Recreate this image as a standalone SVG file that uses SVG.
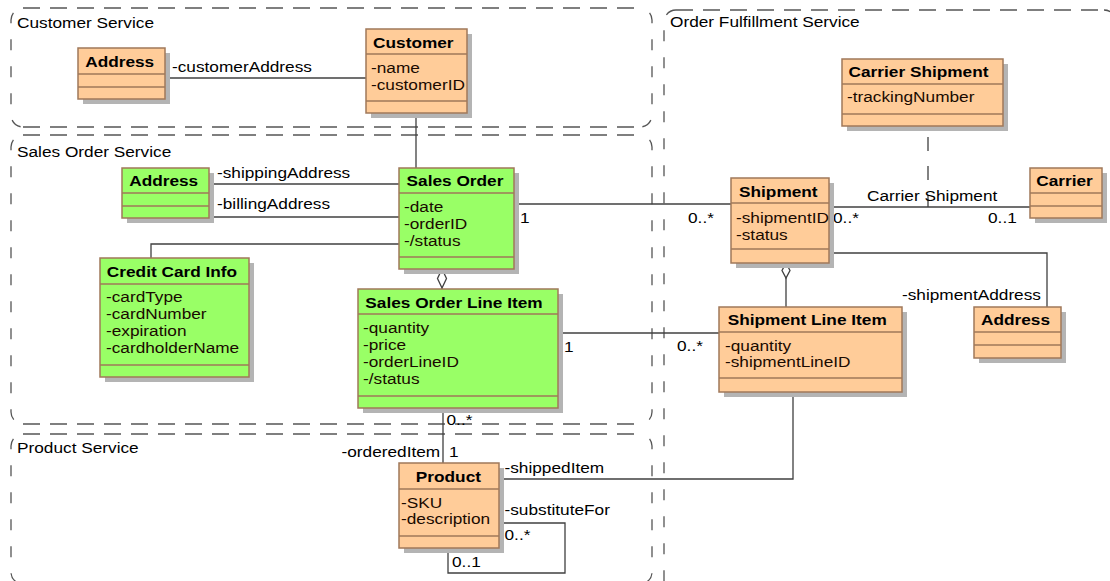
<svg xmlns="http://www.w3.org/2000/svg" width="1110" height="581" viewBox="0 0 1110 581">
<style>
.bo{fill:#ffcc99;stroke:#a0785a;stroke-width:1.5}
.bg{fill:#99ff66;stroke:#a0785a;stroke-width:1.5}
.sh{fill:#b4b4b4}
.sep{stroke:#a0785a;stroke-width:1.5}
.title{font:bold 15px "Liberation Sans",Arial,sans-serif;text-anchor:middle;fill:#000}
.attr{font:15px "Liberation Sans",Arial,sans-serif;fill:#1a0a00}
.lbl{font:15px "Liberation Sans",Arial,sans-serif;fill:#000}
.conn{stroke:#404040;stroke-width:1.3;fill:none}
.dia{stroke:#404040;stroke-width:1.3;fill:#fff}
.ph{stroke:#555;stroke-width:1.3;fill:none;stroke-dasharray:17 10}
.pv{stroke:#555;stroke-width:1.3;fill:none;stroke-dasharray:11 16;stroke-dashoffset:16}
.dsh{stroke:#404040;stroke-width:1.3;fill:none;stroke-dasharray:14 15;stroke-dashoffset:18}
</style>
<rect width="1110" height="581" fill="#fff"/>

<g id="packages">
  <g id="pkg-customer">
    <path class="ph" d="M23 8H640M23 127H640"/>
    <path class="pv" d="M23 8A12 12 0 0 0 11 20V115A12 12 0 0 0 23 127M640 8A12 12 0 0 1 652 20V115A12 12 0 0 1 640 127"/>
    <text class="lbl" transform="translate(17 28) scale(1.15 1)">Customer Service</text>
  </g>
  <g id="pkg-sales">
    <path class="ph" d="M23 135H640M23 424H640"/>
    <path class="pv" d="M23 135A12 12 0 0 0 11 147V412A12 12 0 0 0 23 424M640 135A12 12 0 0 1 652 147V412A12 12 0 0 1 640 424"/>
    <text class="lbl" transform="translate(17 157) scale(1.15 1)">Sales Order Service</text>
  </g>
  <g id="pkg-product">
    <path class="ph" d="M23 434H640"/>
    <path class="pv" d="M23 434A12 12 0 0 0 11 446V572A12 12 0 0 0 23 584M640 434A12 12 0 0 1 652 446V572A12 12 0 0 1 640 584"/>
    <text class="lbl" transform="translate(17 453) scale(1.15 1)">Product Service</text>
  </g>
  <g id="pkg-fulfillment">
    <path class="ph" d="M676 10H1104"/>
    <path class="pv" style="stroke-dashoffset:0" d="M676 10A12 12 0 0 0 664 22V600M1104 10A12 12 0 0 1 1116 22V600"/>
    <text class="lbl" transform="translate(670 27) scale(1.15 1)">Order Fulfillment Service</text>
  </g>
</g>

<g id="connectors">
  <path class="conn" d="M165 78H366"/>
  <path class="conn" d="M416 113V168"/>
  <path class="conn" d="M209 184H399"/>
  <path class="conn" d="M209 217H399"/>
  <path class="conn" d="M151 258V244H399"/>
  <path class="conn" d="M514 204H731"/>
  <path class="conn" d="M442 288V289"/>
  <path class="dia" d="M442 269L446.5 278.5L442 288L437.5 278.5Z"/>
  <path class="conn" d="M558 333H719"/>
  <path class="conn" d="M443 408V463"/>
  <path class="conn" d="M786 278V307"/>
  <path class="dia" d="M786 263L790 270.5L786 278L782 270.5Z"/>
  <path class="conn" d="M829 253H1047V307"/>
  <path class="conn" d="M829 207H1030"/>
  <path class="dsh" d="M928 126V207"/>
  <path class="conn" d="M793 392V479H499"/>
  <path class="conn" d="M499 523H565V573H448V548"/>

  <text class="lbl" transform="translate(172 72) scale(1.15 1)">-customerAddress</text>
  <text class="lbl" transform="translate(217 178) scale(1.15 1)">-shippingAddress</text>
  <text class="lbl" transform="translate(217 209) scale(1.15 1)">-billingAddress</text>
  <text class="lbl" transform="translate(520 223) scale(1.15 1)">1</text>
  <text class="lbl" transform="translate(688 223) scale(1.15 1)">0..*</text>
  <text class="lbl" transform="translate(564 352) scale(1.15 1)">1</text>
  <text class="lbl" transform="translate(677 351) scale(1.15 1)">0..*</text>
  <text class="lbl" transform="translate(867 201) scale(1.15 1)">Carrier Shipment</text>
  <text class="lbl" transform="translate(833 223) scale(1.15 1)">0..*</text>
  <text class="lbl" transform="translate(988 223) scale(1.15 1)">0..1</text>
  <text class="lbl" transform="translate(902 300) scale(1.15 1)">-shipmentAddress</text>
  <text class="lbl" transform="translate(446.5 425) scale(1.15 1)">0..*</text>
  <text class="lbl" transform="translate(341.5 457) scale(1.15 1)">-orderedItem</text>
  <text class="lbl" transform="translate(449 457) scale(1.15 1)">1</text>
  <text class="lbl" transform="translate(504.5 472.7) scale(1.15 1)">-shippedItem</text>
  <text class="lbl" transform="translate(504.5 515) scale(1.15 1)">-substituteFor</text>
  <text class="lbl" transform="translate(504.5 540) scale(1.15 1)">0..*</text>
  <text class="lbl" transform="translate(452 567) scale(1.15 1)">0..1</text>
</g>

<g id="cs-address">
  <rect class="sh" x="83" y="53" width="87" height="51"/>
  <rect class="bo" x="78" y="48" width="87" height="51"/>
  <path class="sep" d="M78 74H165M78 87H165"/>
  <text class="title" transform="translate(119.7 67) scale(1.15 1)">Address</text>
</g>

<g id="customer">
  <rect class="sh" x="371" y="34" width="101" height="84"/>
  <rect class="bo" x="366" y="29" width="101" height="84"/>
  <path class="sep" d="M366 54H467M366 101H467"/>
  <text class="title" transform="translate(413.3 48) scale(1.15 1)">Customer</text>
  <text class="attr" transform="translate(371 0) scale(1.15 1)"><tspan x="0" y="73">-name</tspan><tspan x="0" y="90">-customerID</tspan></text>
</g>

<g id="so-address">
  <rect class="sh" x="127" y="173" width="87" height="50"/>
  <rect class="bg" x="122" y="168" width="87" height="50"/>
  <path class="sep" d="M122 193H209M122 206H209"/>
  <text class="title" transform="translate(163.7 186) scale(1.15 1)">Address</text>
</g>

<g id="credit-card-info">
  <rect class="sh" x="105" y="263" width="149" height="119"/>
  <rect class="bg" x="100" y="258" width="149" height="119"/>
  <path class="sep" d="M100 284H249M100 365H249"/>
  <text class="title" transform="translate(172 277) scale(1.15 1)">Credit Card Info</text>
  <text class="attr" transform="translate(106 0) scale(1.15 1)"><tspan x="0" y="302">-cardType</tspan><tspan x="0" y="319">-cardNumber</tspan><tspan x="0" y="336">-expiration</tspan><tspan x="0" y="353">-cardholderName</tspan></text>
</g>

<g id="sales-order">
  <rect class="sh" x="404" y="173" width="115" height="101"/>
  <rect class="bg" x="399" y="168" width="115" height="101"/>
  <path class="sep" d="M399 193H514M399 257H514"/>
  <text class="title" transform="translate(455 186) scale(1.15 1)">Sales Order</text>
  <text class="attr" transform="translate(404 0) scale(1.15 1)"><tspan x="0" y="212">-date</tspan><tspan x="0" y="229">-orderID</tspan><tspan x="0" y="246">-/status</tspan></text>
</g>

<g id="sales-order-line-item">
  <rect class="sh" x="363" y="294" width="200" height="119"/>
  <rect class="bg" x="358" y="289" width="200" height="119"/>
  <path class="sep" d="M358 314H558M358 396H558"/>
  <text class="title" transform="translate(454 308) scale(1.15 1)">Sales Order Line Item</text>
  <text class="attr" transform="translate(363 0) scale(1.15 1)"><tspan x="0" y="333">-quantity</tspan><tspan x="0" y="350">-price</tspan><tspan x="0" y="367">-orderLineID</tspan><tspan x="0" y="384">-/status</tspan></text>
</g>

<g id="product">
  <rect class="sh" x="404" y="468" width="100" height="85"/>
  <rect class="bo" x="399" y="463" width="100" height="85"/>
  <path class="sep" d="M399 489H499M399 536H499"/>
  <text class="title" transform="translate(448.4 482) scale(1.15 1)">Product</text>
  <text class="attr" transform="translate(401 0) scale(1.15 1)"><tspan x="0" y="508">-SKU</tspan><tspan x="0" y="524">-description</tspan></text>
</g>

<g id="carrier-shipment">
  <rect class="sh" x="847" y="64" width="161" height="67"/>
  <rect class="bo" x="842" y="59" width="161" height="67"/>
  <path class="sep" d="M842 84H1003M842 114H1003"/>
  <text class="title" transform="translate(918.5 77) scale(1.15 1)">Carrier Shipment</text>
  <text class="attr" transform="translate(847 102) scale(1.15 1)">-trackingNumber</text>
</g>

<g id="shipment">
  <rect class="sh" x="736" y="183" width="98" height="85"/>
  <rect class="bo" x="731" y="178" width="98" height="85"/>
  <path class="sep" d="M731 203H829M731 249H829"/>
  <text class="title" transform="translate(778.3 197) scale(1.15 1)">Shipment</text>
  <text class="attr" transform="translate(736 0) scale(1.15 1)"><tspan x="0" y="223">-shipmentID</tspan><tspan x="0" y="240">-status</tspan></text>
</g>

<g id="carrier">
  <rect class="sh" x="1035" y="173" width="72" height="50"/>
  <rect class="bo" x="1030" y="168" width="72" height="50"/>
  <path class="sep" d="M1030 193H1102M1030 206H1102"/>
  <text class="title" transform="translate(1064.5 186) scale(1.15 1)">Carrier</text>
</g>

<g id="shipment-line-item">
  <rect class="sh" x="724" y="312" width="183" height="85"/>
  <rect class="bo" x="719" y="307" width="183" height="85"/>
  <path class="sep" d="M719 332H902M719 378H902"/>
  <text class="title" transform="translate(807.2 325) scale(1.15 1)">Shipment Line Item</text>
  <text class="attr" transform="translate(725 0) scale(1.15 1)"><tspan x="0" y="351">-quantity</tspan><tspan x="0" y="367">-shipmentLineID</tspan></text>
</g>

<g id="of-address">
  <rect class="sh" x="979" y="312" width="87" height="51"/>
  <rect class="bo" x="974" y="307" width="87" height="51"/>
  <path class="sep" d="M974 332H1061M974 345H1061"/>
  <text class="title" transform="translate(1015.5 325) scale(1.15 1)">Address</text>
</g>
</svg>
